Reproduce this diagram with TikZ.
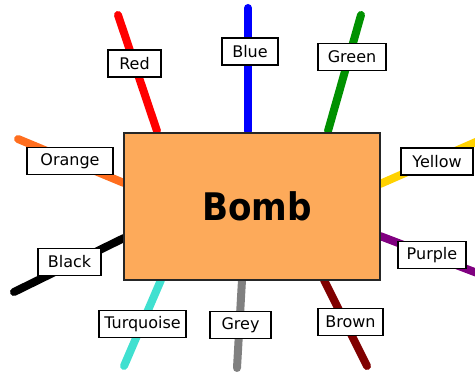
\documentclass[tikz,border=0pt]{standalone}
\usepackage{fontspec}
\setmainfont{DejaVu Sans}
\usetikzlibrary{backgrounds}

\definecolor{bombfill}{RGB}{253,170,90}
\definecolor{wgreen}{RGB}{0,145,0}
\definecolor{worange}{RGB}{255,110,30}
\definecolor{wyellow}{RGB}{255,210,0}
\definecolor{wpurple}{RGB}{128,0,128}
\definecolor{wturq}{RGB}{64,224,208}
\definecolor{wgrey}{RGB}{128,128,128}
\definecolor{wbrown}{RGB}{128,0,0}

\begin{document}
\begin{tikzpicture}[x=1pt, y=-1pt,
                    bombbox/.style={draw=black!85, fill=bombfill, line width=1.5pt,
                                    minimum width=256pt, minimum height=147pt, inner sep=0pt},
                    wire/.style={line width=8pt, line cap=round, draw=#1},
                    tag/.style={draw=black, fill=white, line width=1.3pt, inner sep=0pt,
                                minimum height=27pt, font=\fontsize{16}{19}\selectfont}]

                    \useasboundingbox (0,0) rectangle (475,374);

                    \node[bombbox] (bomb) at (252,206.5)
                        {\fontsize{38}{44}\selectfont\bfseries\hspace{10pt}\scalebox{0.9}[1]{Bomb}};

                    % free ends and box ends of the wires
                    \coordinate (r_in) at (157,131);  \coordinate (r_out) at (118,15);
                    \coordinate (b_in) at (248,131);  \coordinate (b_out) at (248,8);
                    \coordinate (g_in) at (328,131);  \coordinate (g_out) at (361,15);
                    \coordinate (o_in) at (124,183);  \coordinate (o_out) at (18,139);
                    \coordinate (y_in) at (380,184);  \coordinate (y_out) at (485,138);
                    \coordinate (k_in) at (124,238);  \coordinate (k_out) at (14,292);
                    \coordinate (p_in) at (380,236);  \coordinate (p_out) at (485,276);
                    \coordinate (t_in) at (161,280);  \coordinate (t_out) at (124,366);
                    \coordinate (e_in) at (242,280);  \coordinate (e_out) at (237,368);
                    \coordinate (n_in) at (324,280);  \coordinate (n_out) at (367,366);

                    \begin{scope}[on background layer]
                    \draw[wire=red]     (r_in) -- (r_out);
                    \draw[wire=blue]    (b_in) -- (b_out);
                    \draw[wire=wgreen]  (g_in) -- (g_out);
                    \draw[wire=worange] (o_in) -- (o_out);
                    \draw[wire=wyellow] (y_in) -- (y_out);
                    \draw[wire=black]   (k_in) -- (k_out);
                    \draw[wire=wpurple] (p_in) -- (p_out);
                    \draw[wire=wturq]   (t_in) -- (t_out);
                    \draw[wire=wgrey]   (e_in) -- (e_out);
                    \draw[wire=wbrown]  (n_in) -- (n_out);
                    \end{scope}

                    \node[tag, minimum width=53pt] (l_red)    at (134.5,63.5) {Red};
                    \node[tag, minimum width=56pt] (l_blue)   at (250,51.5)   {Blue};
                    \node[tag, minimum width=68pt] (l_green)  at (352,57)     {Green};
                    \node[tag, minimum width=86pt] (l_orange) at (70,161)     {Orange};
                    \node[tag, minimum width=72pt] (l_yellow) at (437,161.5)  {Yellow};
                    \node[tag, minimum width=63pt] (l_black)  at (69.5,262)   {Black};
                    \node[tag, minimum width=68pt] (l_purple) at (432,255)    {Purple};
                    \node[tag, minimum width=87pt] (l_turq)   at (142.5,324)  {Turquoise};
                    \node[tag, minimum width=61pt] (l_grey)   at (240.5,325)  {Grey};
                    \node[tag, minimum width=65pt] (l_brown)  at (350.5,322)  {Brown};

                \end{tikzpicture}
\end{document}
